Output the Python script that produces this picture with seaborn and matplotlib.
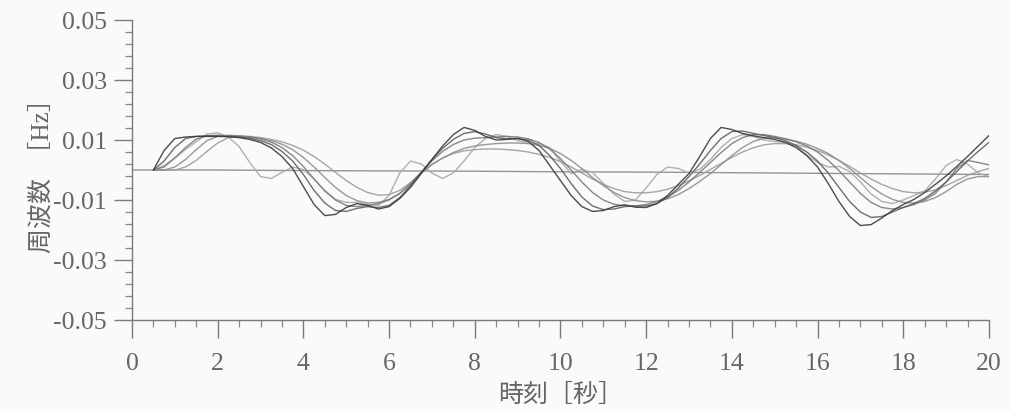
import numpy as np
import pandas as pd
import matplotlib
matplotlib.use("Agg")
import matplotlib.pyplot as plt
from matplotlib.ticker import FixedLocator, MultipleLocator
import seaborn as sns

# Time axis of the simulated responses [s]
t = np.round(np.arange(0.5, 20.0001, 0.25), 2)

# Frequency deviation of each case [Hz]
case_1 = [0.0, 0.0065, 0.0105, 0.0110, 0.0112, 0.0112, 0.0112, 0.0111, 0.0108, 0.0102,
          0.0092, 0.0074, 0.0045, 0.0005, -0.0055, -0.0115, -0.0152, -0.0148, -0.0125, -0.0112,
          -0.0118, -0.0130, -0.0122, -0.0095, -0.0058, -0.0012, 0.0035, 0.0080, 0.0118, 0.0142,
          0.0132, 0.0112, 0.0100, 0.0102, 0.0106, 0.0095, 0.0065, 0.0015, -0.0035, -0.0085,
          -0.0122, -0.0138, -0.0135, -0.0122, -0.0116, -0.0124, -0.0125, -0.0112, -0.0085, -0.0048,
          -0.0012, 0.0045, 0.0105, 0.0142, 0.0135, 0.0122, 0.0114, 0.0108, 0.0102, 0.0092,
          0.0075, 0.0048, 0.0010, -0.0045, -0.0105, -0.0155, -0.0185, -0.0182, -0.0160, -0.0135,
          -0.0115, -0.0098, -0.0075, -0.0048, -0.0020, 0.0012, 0.0045, 0.0080, 0.0115]

case_2 = [0.0, 0.0030, 0.0075, 0.0105, 0.0112, 0.0114, 0.0113, 0.0112, 0.0110, 0.0106,
          0.0098, 0.0085, 0.0062, 0.0030, -0.0015, -0.0068, -0.0110, -0.0135, -0.0138, -0.0128,
          -0.0122, -0.0125, -0.0118, -0.0092, -0.0052, -0.0008, 0.0035, 0.0072, 0.0102, 0.0122,
          0.0128, 0.0120, 0.0108, 0.0104, 0.0104, 0.0100, 0.0082, 0.0048, 0.0005, -0.0045,
          -0.0090, -0.0120, -0.0132, -0.0130, -0.0122, -0.0120, -0.0120, -0.0112, -0.0092, -0.0060,
          -0.0022, 0.0020, 0.0065, 0.0105, 0.0128, 0.0130, 0.0122, 0.0115, 0.0108, 0.0098,
          0.0082, 0.0060, 0.0030, -0.0010, -0.0058, -0.0105, -0.0140, -0.0158, -0.0155, -0.0140,
          -0.0125, -0.0112, -0.0095, -0.0070, -0.0040, -0.0005, 0.0030, 0.0062, 0.0092]

case_3 = [0.0, 0.0010, 0.0040, 0.0075, 0.0103, 0.0114, 0.0116, 0.0114, 0.0112, 0.0110,
          0.0104, 0.0093, 0.0075, 0.0048, 0.0012, -0.0030, -0.0070, -0.0100, -0.0118, -0.0122,
          -0.0118, -0.0112, -0.0100, -0.0078, -0.0045, -0.0008, 0.0030, 0.0062, 0.0085, 0.0100,
          0.0106, 0.0108, 0.0110, 0.0112, 0.0110, 0.0104, 0.0092, 0.0070, 0.0038, 0.0000,
          -0.0040, -0.0075, -0.0100, -0.0114, -0.0120, -0.0120, -0.0115, -0.0105, -0.0090, -0.0068,
          -0.0040, -0.0008, 0.0025, 0.0058, 0.0088, 0.0108, 0.0118, 0.0118, 0.0112, 0.0104,
          0.0094, 0.0080, 0.0060, 0.0032, -0.0002, -0.0040, -0.0078, -0.0108, -0.0125, -0.0130,
          -0.0125, -0.0115, -0.0100, -0.0078, -0.0040, 0.0005, 0.0032, 0.0025, 0.0017]

case_4 = [0.0, 0.0, 0.0010, 0.0035, 0.0068, 0.0098, 0.0112, 0.0116, 0.0114, 0.0110,
          0.0105, 0.0098, 0.0086, 0.0068, 0.0042, 0.0010, -0.0025, -0.0058, -0.0085, -0.0102,
          -0.0110, -0.0108, -0.0098, -0.0078, -0.0048, -0.0010, 0.0018, 0.0040, 0.0058, 0.0072,
          0.0080, 0.0085, 0.0088, 0.0090, 0.0090, 0.0088, 0.0082, 0.0072, 0.0055, 0.0032,
          0.0005, -0.0025, -0.0052, -0.0075, -0.0092, -0.0102, -0.0106, -0.0104, -0.0096, -0.0082,
          -0.0062, -0.0038, -0.0012, 0.0018, 0.0048, 0.0075, 0.0095, 0.0106, 0.0108, 0.0104,
          0.0096, 0.0086, 0.0072, 0.0055, 0.0032, 0.0005, -0.0025, -0.0055, -0.0080, -0.0098,
          -0.0108, -0.0110, -0.0105, -0.0092, -0.0072, -0.0048, -0.0030, -0.0022, -0.0022]

case_5 = [0.0, 0.0, 0.0, 0.0010, 0.0032, 0.0062, 0.0090, 0.0108, 0.0114, 0.0112,
          0.0108, 0.0102, 0.0094, 0.0082, 0.0066, 0.0045, 0.0020, -0.0008, -0.0035, -0.0058,
          -0.0075, -0.0084, -0.0082, -0.0068, -0.0042, -0.0010, 0.0018, 0.0040, 0.0055, 0.0064,
          0.0068, 0.0070, 0.0070, 0.0068, 0.0065, 0.0060, 0.0052, 0.0042, 0.0028, 0.0010,
          -0.0010, -0.0030, -0.0048, -0.0062, -0.0072, -0.0076, -0.0076, -0.0072, -0.0064, -0.0052,
          -0.0036, -0.0018, 0.0002, 0.0022, 0.0042, 0.0060, 0.0074, 0.0084, 0.0088, 0.0088,
          0.0084, 0.0076, 0.0065, 0.0050, 0.0032, 0.0012, -0.0010, -0.0030, -0.0048, -0.0062,
          -0.0072, -0.0076, -0.0074, -0.0066, -0.0052, -0.0035, -0.0018, -0.0005, 0.0005]

case_6 = [0.0, 0.0015, 0.0040, 0.0068, 0.0095, 0.0120, 0.0124, 0.0110, 0.0078, 0.0025,
          -0.0022, -0.0028, -0.0008, 0.0010, 0.0002, -0.0030, -0.0068, -0.0098, -0.0108, -0.0108,
          -0.0115, -0.0118, -0.0085, -0.0010, 0.0030, 0.0020, -0.0010, -0.0028, -0.0010, 0.0030,
          0.0075, 0.0105, 0.0118, 0.0112, 0.0098, 0.0090, 0.0088, 0.0075, 0.0030, -0.0012,
          0.0002, -0.0008, -0.0045, -0.0080, -0.0105, -0.0100, -0.0060, -0.0015, 0.0010, 0.0005,
          -0.0010, 0.0002, 0.0035, 0.0075, 0.0105, 0.0118, 0.0112, 0.0100, 0.0095, 0.0092,
          0.0080, 0.0050, 0.0025, 0.0010, 0.0012, -0.0005, -0.0040, -0.0080, -0.0105, -0.0112,
          -0.0100, -0.0085, -0.0070, -0.0030, 0.0015, 0.0035, 0.0020, -0.0010, -0.0022]

# Reference case without oscillation
t_ref = [0, 2, 4, 6, 8, 10, 12, 14, 16, 18, 20]
case_ref = [0.0, 0.0, -0.0002, -0.0003, -0.0004, -0.0006, -0.0007, -0.0009, -0.0011, -0.0013, -0.0015]

y_ticks = [-0.05, -0.03, -0.01, 0.01, 0.03, 0.05]
y_tick_labels = ["-0.05", "-0.03", "-0.01", "0.01", "0.03", "0.05"]
x_ticks = [0, 2, 4, 6, 8, 10, 12, 14, 16, 18, 20]

frames = []
for name, vals in [("ref", case_ref)]:
    frames.append(pd.DataFrame({"t": t_ref, "f": vals, "case": name}))
for name, vals in [("c6", case_6), ("c5", case_5), ("c4", case_4),
                   ("c3", case_3), ("c2", case_2), ("c1", case_1)]:
    frames.append(pd.DataFrame({"t": t, "f": vals, "case": name}))
df = pd.concat(frames, ignore_index=True)

palette = {"ref": "#8a8a8a", "c6": "#a8a8a8", "c5": "#9c9c9c", "c4": "#8e8e8e",
           "c3": "#7c7c7c", "c2": "#606060", "c1": "#3a3a3a"}

sns.set_style("ticks")
plt.rcParams["font.family"] = ["Liberation Serif", "Noto Sans CJK JP"]
plt.rcParams["axes.unicode_minus"] = False
bg = "#fbf9f9"
ink = "#666666"

fig = plt.figure(figsize=(10.12, 4.11), dpi=100, facecolor=bg)
ax = fig.add_axes([0.1304, 0.2214, 0.8468, 0.7299], facecolor=bg)

sns.lineplot(data=df, x="t", y="f", hue="case", palette=palette, legend=False,
             estimator=None, linewidth=1.0, alpha=0.9, ax=ax)

ax.set_xlim(0, 20)
ax.set_ylim(-0.05, 0.05)
ax.xaxis.set_major_locator(FixedLocator(x_ticks))
ax.xaxis.set_minor_locator(MultipleLocator(0.5))
ax.yaxis.set_major_locator(FixedLocator(y_ticks))
ax.yaxis.set_minor_locator(FixedLocator(np.round(np.arange(-0.05, 0.0501, 0.004), 4)))
ax.set_yticklabels(y_tick_labels)
ax.set_xticklabels([str(v) for v in x_ticks])

sns.despine(ax=ax)
for side in ("left", "bottom"):
    ax.spines[side].set_color("#7a7a7a")
    ax.spines[side].set_linewidth(1.0)

ax.tick_params(axis="both", which="major", direction="out", length=13, width=1.0,
               color="#7a7a7a", labelcolor=ink, labelsize=18.5)
ax.tick_params(axis="both", which="minor", direction="out", length=5, width=0.9,
               color="#8a8a8a")
ax.tick_params(axis="x", which="major", pad=11)
ax.tick_params(axis="y", which="major", pad=5)

ax.set_xlabel("時刻［秒］", fontsize=18, color=ink, labelpad=6)
ax.set_ylabel("周波数  ［Hz］", fontsize=18, color=ink, labelpad=0)

fig.savefig("out.png", dpi=100, facecolor=bg)
